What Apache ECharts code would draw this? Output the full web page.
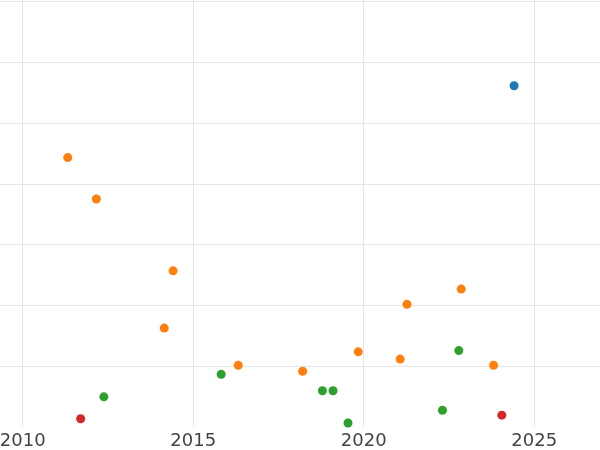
<!DOCTYPE html>
<html>
<head>
<meta charset="utf-8">
<script src="https://cdn.jsdelivr.net/npm/echarts@6/dist/echarts.min.js"></script>
<style>html,body{margin:0;padding:0;background:#fff}#chart{width:600px;height:450px}</style>
</head>
<body>
<div id="chart"></div>
<script>
// Data (x: year, y: value)
var blueYears = [2024.41];
var blueValues = [56.1];

var orangeYears = [2011.32, 2012.16, 2014.41, 2014.15, 2016.32, 2018.21, 2019.84, 2021.07, 2021.27, 2022.86, 2023.81];
var orangeValues = [44.3, 37.5, 25.7, 16.3, 10.2, 9.2, 12.4, 11.2, 20.2, 22.7, 10.2];

var greenYears = [2012.38, 2015.82, 2018.79, 2019.10, 2019.54, 2022.31, 2022.79];
var greenValues = [5.0, 8.7, 6.0, 6.0, 0.7, 2.8, 12.6];

var redYears = [2011.70, 2024.05];
var redValues = [1.4, 2.0];

function pairs(xs, ys) { return xs.map(function (x, i) { return [x, ys[i]]; }); }

var chart = echarts.init(document.getElementById('chart'), null, { renderer: 'canvas' });
var textFont = 'DejaVu Sans';
chart.setOption({
  animation: false,
  backgroundColor: '#ffffff',
  grid: { left: -147.8, right: -104.7, top: -59.7, bottom: 22.7, containLabel: false, outerBoundsMode: 'none' },
  xAxis: {
    type: 'value', min: 2005, max: 2030, interval: 5,
    axisLine: { show: false }, axisTick: { show: false },
    axisLabel: { color: '#444444', fontSize: 18, fontFamily: textFont, margin: 5,
      formatter: function (v) { return String(Math.round(v)); } },
    splitLine: { show: true, lineStyle: { color: '#e5e5e5', width: 1 } }
  },
  yAxis: {
    type: 'value', min: 0, max: 80, interval: 10,
    axisLine: { show: false }, axisTick: { show: false },
    axisLabel: { show: false },
    splitLine: { show: true, showMinLine: false, lineStyle: { color: '#e5e5e5', width: 1 } }
  },
  series: [
    { type: 'scatter', data: pairs(blueYears, blueValues), symbolSize: 9, itemStyle: { color: '#1f77b4', opacity: 1 } },
    { type: 'scatter', data: pairs(orangeYears, orangeValues), symbolSize: 9, itemStyle: { color: '#ff7f0e', opacity: 1 } },
    { type: 'scatter', data: pairs(greenYears, greenValues), symbolSize: 9, itemStyle: { color: '#2ca02c', opacity: 1 } },
    { type: 'scatter', data: pairs(redYears, redValues), symbolSize: 9, itemStyle: { color: '#d62728', opacity: 1 } }
  ]
});
</script>
</body>
</html>
